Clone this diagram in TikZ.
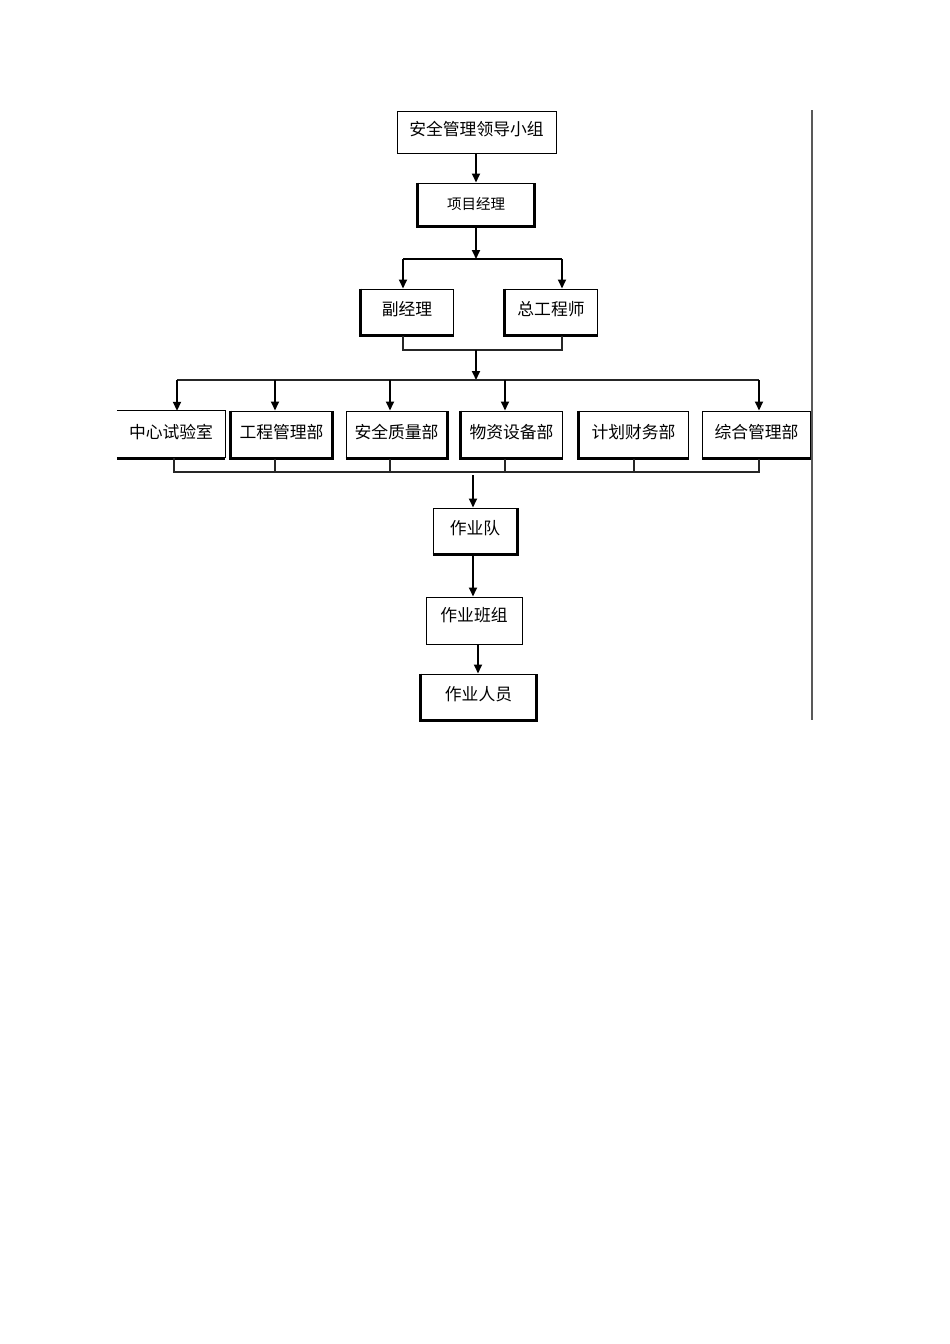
\documentclass[tikz,border=0pt]{standalone}
\usepackage{fontspec}
\newfontfamily\cjk{Noto Sans CJK SC}
\usetikzlibrary{arrows.meta}
\begin{document}
\begin{tikzpicture}[x=1pt,y=-1pt,
  box/.style={draw, line width=1pt, inner sep=0pt, text height=14.5pt, text depth=7pt, font=\cjk\fontsize{16.8}{16.8}\selectfont},
  nobox/.style={inner sep=0pt, text height=14.5pt, text depth=7pt, font=\cjk\fontsize{16.8}{16.8}\selectfont},
  small/.style={text height=12pt, text depth=3pt, font=\cjk\fontsize{14.5}{14.5}\selectfont},
  dept/.style={minimum height=47pt},
  heavy/.style={line width=2.6pt},
  link/.style={line width=1.2pt, draw=black!85},
  arr/.style={line width=1.8pt, -{Triangle[length=9pt,width=8pt]}},
]
\useasboundingbox (0,0) rectangle (950,1344);

% boxes
\node[box, minimum width=159pt, minimum height=42pt] (lead) at (476.5,132) {安全管理领导小组};
\node[box, small, minimum width=116pt, minimum height=43pt] (pm) at (476,204.5) {项目经理};
\node[box, minimum width=92pt, minimum height=46pt] (fu) at (407,312) {副经理};
\node[box, minimum width=92pt, minimum height=46pt] (zg) at (551,312) {总工程师};

\node[nobox, dept, minimum width=108pt] (d1) at (171,434.5) {中心试验室};
\node[box, dept, minimum width=101pt] (d2) at (281.5,434.5) {工程管理部};
\node[box, dept, minimum width=101pt] (d3) at (396.5,434.5) {安全质量部};
\node[box, dept, minimum width=101pt] (d4) at (511.5,434.5) {物资设备部};
\node[box, dept, minimum width=109pt] (d5) at (633.5,434.5) {计划财务部};
\node[box, dept, minimum width=109pt] (d6) at (756.5,434.5) {综合管理部};

\node[box, minimum width=84pt, minimum height=46pt] (zd) at (475,531) {作业队};
\node[box, minimum width=96pt, minimum height=47pt, text depth=12pt] (bz) at (474,620.5) {作业班组};
\node[box, minimum width=115pt, minimum height=46pt] (ry) at (478.5,697) {作业人员};

% open box (no left side)
\draw[line width=1pt] (d1.north west) -- (d1.north east) -- (d1.south east);
\draw[heavy] (d1.south west) -- (d1.south east);

% heavy shadow edges
\draw[heavy] (pm.north west) -- (pm.south west) -- (pm.south east) -- (pm.north east);
\draw[heavy] (fu.north west) -- (fu.south west) -- (fu.south east);
\draw[heavy] (zg.north west) -- (zg.south west) -- (zg.south east);
\draw[heavy] (d2.north west) -- (d2.south west) -- (d2.south east) -- (d2.north east);
\draw[heavy] (d3.south west) -- (d3.south east) -- (d3.north east);
\draw[heavy] (d4.north west) -- (d4.south west) -- (d4.south east);
\draw[heavy] (d5.north west) -- (d5.south west) -- (d5.south east);
\draw[heavy] (d6.south west) -- (d6.south east) -- (d6.north east);
\draw[heavy] (zd.south west) -- (zd.south east) -- (zd.north east);
\draw[heavy] (ry.north west) -- (ry.south west) -- (ry.south east) -- (ry.north east);

% coordinates
\coordinate (s1) at (476,259);
\coordinate (sl) at (403,259);
\coordinate (sr) at (562,259);
\coordinate (m1) at (476,350);
\coordinate (m2) at (476,380);
\coordinate (al) at (177,380);
\coordinate (ar) at (759,380);
\coordinate (a2) at (275,380);
\coordinate (a3) at (390,380);
\coordinate (a4) at (505,380);
\coordinate (b1) at (174,472);
\coordinate (b2) at (275,472);
\coordinate (b3) at (390,472);
\coordinate (b4) at (505,472);
\coordinate (b5) at (634,472);
\coordinate (b6) at (759,472);
\coordinate (c1) at (473,475);
\coordinate (e1) at (478,644);
\coordinate (vt) at (812,110);
\coordinate (vb) at (812,720);

% arrows and links
\draw[arr] (pm.north |- lead.south) -- (pm.north);
\draw[arr] (pm.south) -- (s1);
\draw[line width=1.8pt] (sl) -- (sr);
\draw[arr] (sl) -- (sl |- fu.north);
\draw[arr] (sr) -- (sr |- zg.north);
\draw[link] (sl |- fu.south) |- (sr |- m1) -- (sr |- zg.south);
\draw[arr] (m1) -- (m2);
\draw[link] (al) -- (ar);
\draw[arr] (al) -- (al |- d1.north);
\draw[arr] (a2) -- (a2 |- d2.north);
\draw[arr] (a3) -- (a3 |- d3.north);
\draw[arr] (a4) -- (a4 |- d4.north);
\draw[arr] (ar) -- (ar |- d6.north);
\draw[link] (b1 |- d1.south) -- (b1) -- (b6) -- (b6 |- d6.south);
\draw[link] (b2 |- d2.south) -- (b2);
\draw[link] (b3 |- d3.south) -- (b3);
\draw[link] (b4 |- d4.south) -- (b4);
\draw[link] (b5 |- d5.south) -- (b5);
\draw[arr] (c1) -- (c1 |- zd.north);
\draw[arr] (zd.south -| c1) -- (c1 |- bz.north);
\draw[arr] (e1) -- (e1 |- ry.north);
\draw[line width=1.5pt, draw=black!65] (vt) -- (vb);
\end{tikzpicture}
\end{document}
